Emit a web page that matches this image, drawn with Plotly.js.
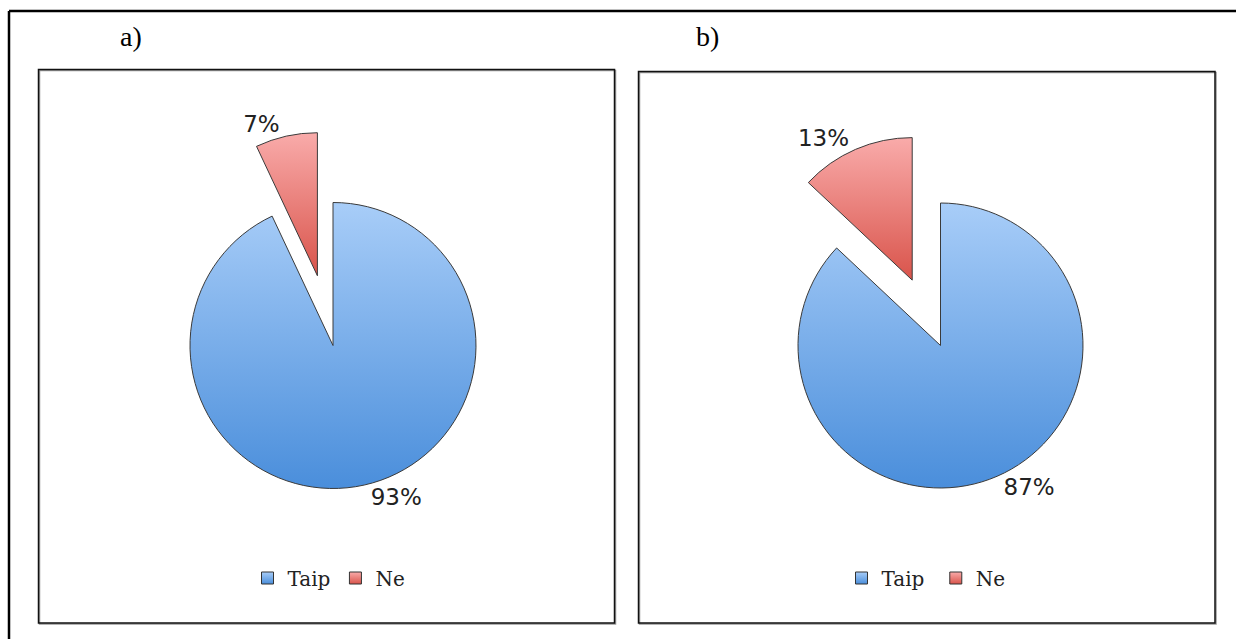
<!DOCTYPE html>
<html>
<head>
<meta charset="utf-8">
<script src="https://cdn.plot.ly/plotly-3.0.1.min.js"></script>
<style>
html,body{margin:0;padding:0;background:#fff;}
#chart{width:1236px;height:639px;}
</style>
</head>
<body>
<div id="chart"></div>
<script>
// ---- data ----
const categories = ['Taip', 'Ne'];
const valuesA = [93, 7];
const valuesB = [87, 13];
const panelLabels = ['a)', 'b)'];

// ---- layout helpers (pixel -> paper) ----
const W = 1236, H = 639;
const px = x => x / W;
const py = y => 1 - y / H;

const PULL = 0.5;
function pieDomain(cx, cy, r) {
  const half = r * (1 + PULL);
  return { x: [px(cx - half), px(cx + half)], y: [py(cy + half), py(cy - half)] };
}

const baseColors = ['#79aeea', '#ec7f7a'];
function pieTrace(labels, vals, dom, legendId) {
  return {
    type: 'pie',
    labels: labels,
    values: vals,
    sort: false,
    direction: 'clockwise',
    rotation: 0,
    pull: [0, PULL],
    domain: dom,
    marker: { colors: baseColors, line: { color: '#3a3a3a', width: 1 } },
    textinfo: 'percent',
    textposition: 'outside',
    texttemplate: '%{percent:.0%}',
    outsidetextfont: { family: 'DejaVu Sans', size: 23, color: '#222' },
    hoverinfo: 'none',
    legend: legendId,
    automargin: false
  };
}

// second pie gets its own legend; a trailing space keeps its labels distinct
const traces = [
  pieTrace(categories, valuesA, pieDomain(333, 345.5, 143), 'legend'),
  pieTrace(categories.map(c => c + ' '), valuesB, pieDomain(940.5, 345.5, 142.5), 'legend2')
];

function rect(x0, y0, x1, y1, color, w) {
  return { type: 'rect', xref: 'paper', yref: 'paper', x0: px(x0), x1: px(x1), y0: py(y1), y1: py(y0),
           line: { color: color, width: w }, fillcolor: 'rgba(0,0,0,0)', layer: 'below' };
}
function line(x0, y0, x1, y1, color, w) {
  return { type: 'line', xref: 'paper', yref: 'paper', x0: px(x0), x1: px(x1), y0: py(y0), y1: py(y1),
           line: { color: color, width: w }, layer: 'below' };
}

const legendCommon = {
  orientation: 'h', xanchor: 'center', yanchor: 'middle',
  font: { family: 'DejaVu Serif', size: 20, color: '#222' },
  bgcolor: 'rgba(0,0,0,0)', itemclick: false, itemdoubleclick: false
};

const layout = {
  width: W, height: H,
  margin: { l: 0, r: 0, t: 0, b: 0 },
  paper_bgcolor: '#fff',
  showlegend: true,
  legend: Object.assign({ x: px(329), y: py(578) }, legendCommon),
  legend2: Object.assign({ x: px(929), y: py(578) }, legendCommon),
  shapes: [
    // outer frame (top and left visible)
    line(9, 11, 1260, 11, '#000', 2.5),
    line(9, 11, 9, 660, '#000', 2.5),
    // panel boxes with slight shadow
    rect(39.5, 70.5, 615.5, 624, '#999', 1.5),
    rect(38.5, 69.5, 614.5, 623, '#111', 1.5),
    rect(639.5, 72.5, 1216, 624, '#999', 1.5),
    rect(638.5, 71.5, 1215, 623, '#111', 1.5)
  ],
  annotations: [
    { text: panelLabels[0], xref: 'paper', yref: 'paper', x: px(131), y: py(37), xanchor: 'center', yanchor: 'middle',
      showarrow: false, font: { family: 'Liberation Serif', size: 28, color: '#000' } },
    { text: panelLabels[1], xref: 'paper', yref: 'paper', x: px(707), y: py(37), xanchor: 'center', yanchor: 'middle',
      showarrow: false, font: { family: 'Liberation Serif', size: 28, color: '#000' } }
  ]
};

function applyGradients(gd) {
  const svg = gd.querySelector('.main-svg');
  if (!svg) return;
  const ns = 'http://www.w3.org/2000/svg';
  let defs = svg.querySelector('defs#grad-defs');
  if (!defs) {
    defs = document.createElementNS(ns, 'defs');
    defs.setAttribute('id', 'grad-defs');
    const grads = [['gBlue', '#a8cdf8', '#4a8edb'], ['gRed', '#f9abaa', '#d9544b']];
    grads.forEach(([id, c1, c2]) => {
      const lg = document.createElementNS(ns, 'linearGradient');
      lg.setAttribute('id', id);
      lg.setAttribute('x1', '0'); lg.setAttribute('y1', '0');
      lg.setAttribute('x2', '0'); lg.setAttribute('y2', '1');
      [[0, c1], [1, c2]].forEach(([o, c]) => {
        const s = document.createElementNS(ns, 'stop');
        s.setAttribute('offset', o);
        s.setAttribute('stop-color', c);
        lg.appendChild(s);
      });
      defs.appendChild(lg);
    });
    svg.insertBefore(defs, svg.firstChild);
  }
  const sel = 'g.slice path.surface, .legendpoints path';
  gd.querySelectorAll(sel).forEach(p => {
    const f = p.style.fill || '';
    if (f.indexOf('121, 174, 234') >= 0) p.style.fill = 'url(#gBlue)';
    else if (f.indexOf('236, 127, 122') >= 0) p.style.fill = 'url(#gRed)';
  });
  gd.querySelectorAll('.legendpoints path').forEach(p => {
    p.style.stroke = '#333';
    p.style.strokeWidth = '1px';
  });
}

const gd = document.getElementById('chart');
Plotly.newPlot(gd, traces, layout, { displayModeBar: false, staticPlot: true }).then(() => applyGradients(gd));
</script>
</body>
</html>
